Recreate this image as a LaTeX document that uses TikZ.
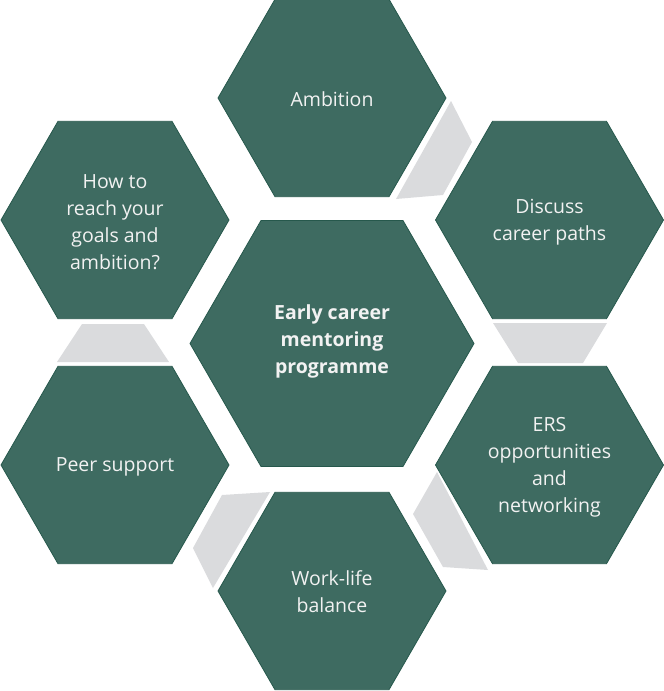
\documentclass[tikz,border=0pt]{standalone}
\usepackage{fontspec}
\setmainfont{Open Sans}
\usetikzlibrary{shapes.geometric}
\definecolor{hexfill}{RGB}{62,107,97}
\definecolor{hexline}{RGB}{38,88,76}
\definecolor{conn}{RGB}{218,219,221}
\definecolor{txt}{RGB}{242,242,242}
\begin{document}
\begin{tikzpicture}[x=1pt,y=-1pt,
  hexbox/.style={regular polygon, regular polygon sides=6, fill=hexfill, draw=hexline,
    line width=0.8pt, inner sep=0pt, outer sep=0pt},
  outerhex/.style={hexbox, minimum size=228pt},
  centerhex/.style={hexbox, minimum size=284pt},
  lbl/.style={text=txt, align=center, inner sep=0pt, font=\fontsize{19.5}{27}\selectfont},
  boldlbl/.style={lbl, font=\fontsize{19.5}{27}\selectfont\bfseries},
  connshape/.style={fill=conn}]
\useasboundingbox (0,0) rectangle (664,691);
% grey connector shapes
\fill[connshape] (451,101) -- (472,142) -- (443,195) -- (396,199) -- cycle;
\fill[connshape] (493,323) -- (607,323) -- (583,363) -- (518,363) -- cycle;
\fill[connshape] (437,472) -- (488,570) -- (443,567) -- (413,514) -- cycle;
\fill[connshape] (222,495) -- (270,492) -- (213,588) -- (193,548) -- cycle;
\fill[connshape] (82,324) -- (144,324) -- (169,362) -- (57,362) -- cycle;
% hexagons
\node[centerhex] (center) at (332,343.5) {};
\node[outerhex] (ambition) at (332,98) {};
\node[outerhex] (discuss) at (549.5,220) {};
\node[outerhex] (ers) at (549.5,465) {};
\node[outerhex] (work) at (332,591) {};
\node[outerhex] (peer) at (115,465) {};
\node[outerhex] (howto) at (115,220) {};
% labels
\node[boldlbl] (centerT) at ([yshift=2pt]center.center) {Early career\\mentoring\\programme};
\node[lbl] (ambitionT) at ([yshift=-1pt]ambition.center) {Ambition};
\node[lbl] (discussT) at ([yshift=-2pt]discuss.center) {Discuss\\career paths};
\node[lbl] (ersT) at ([yshift=-2pt]ers.center) {ERS\\opportunities\\and\\networking};
\node[lbl] (workT) at ([yshift=-1pt]work.center) {Work-life\\balance};
\node[lbl] (peerT) at ([yshift=-2pt]peer.center) {Peer support};
\node[lbl] (howtoT) at ([yshift=-2pt]howto.center) {How to\\reach your\\goals and\\ambition?};
\end{tikzpicture}
\end{document}
